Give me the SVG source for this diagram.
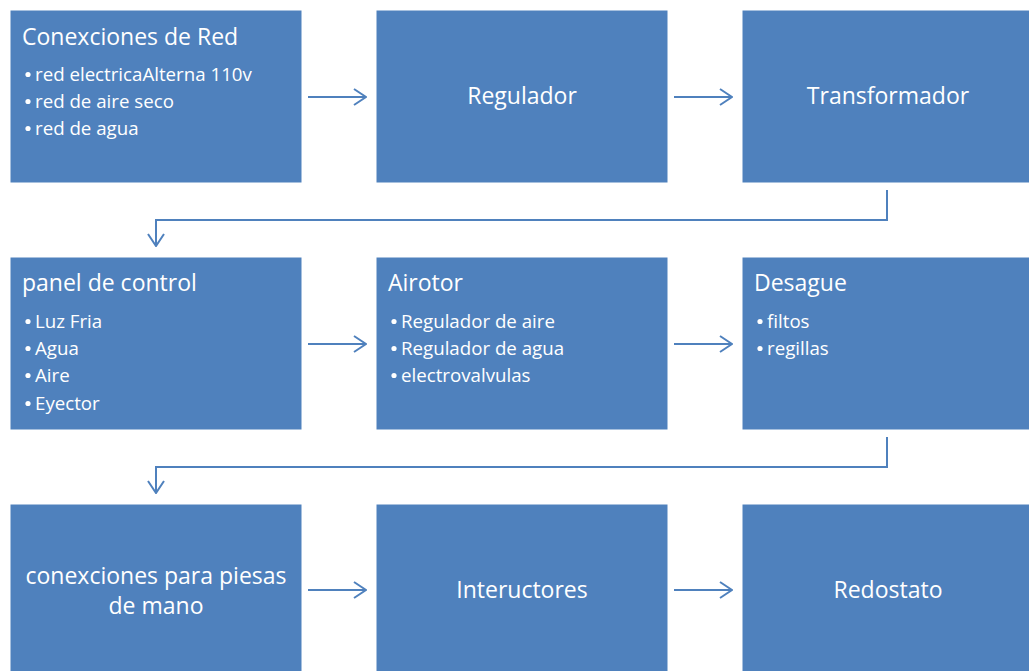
<svg xmlns="http://www.w3.org/2000/svg" width="1029" height="671" viewBox="0 0 1029 671">
<style>
.box{fill:#4f81bd;stroke:#ffffff;stroke-width:1}
.t{font-family:"Open Sans","Liberation Sans",sans-serif;fill:#ffffff;font-size:23px}
.c{text-anchor:middle}
.b{font-family:"Open Sans","Liberation Sans",sans-serif;fill:#ffffff;font-size:18.7px}
.d{fill:#ffffff}
.conn{fill:none;stroke:#4f81bd;stroke-width:2}
</style>
<defs>
<marker id="ah" viewBox="0 0 14 18" refX="13" refY="9" markerWidth="14" markerHeight="18" markerUnits="userSpaceOnUse" orient="auto">
<path d="M1,1 L13,9 L1,17" fill="none" stroke="#4f81bd" stroke-width="2"/>
</marker>
</defs>
<g id="connectors">
<line class="conn" x1="308" y1="97" x2="366" y2="97" marker-end="url(#ah)"/>
<line class="conn" x1="674" y1="97" x2="732" y2="97" marker-end="url(#ah)"/>
<polyline class="conn" points="887,190 887,220 156,220 156,246" marker-end="url(#ah)"/>
<line class="conn" x1="308" y1="344" x2="366" y2="344" marker-end="url(#ah)"/>
<line class="conn" x1="674" y1="344" x2="732" y2="344" marker-end="url(#ah)"/>
<polyline class="conn" points="887,437 887,467 156,467 156,493" marker-end="url(#ah)"/>
<line class="conn" x1="308" y1="590" x2="366" y2="590" marker-end="url(#ah)"/>
<line class="conn" x1="674" y1="590" x2="732" y2="590" marker-end="url(#ah)"/>
</g>
<g id="n1"><rect class="box" x="10" y="10" width="292" height="173"/>
<text class="t" x="22" y="45">Conexciones de Red</text>
<circle class="d" cx="28" cy="74.5" r="2.6"/><text class="b" x="35" y="81">red electricaAlterna 110v</text>
<circle class="d" cx="28" cy="101.5" r="2.6"/><text class="b" x="35" y="108">red de aire seco</text>
<circle class="d" cx="28" cy="128.5" r="2.6"/><text class="b" x="35" y="135">red de agua</text></g>
<g id="n2"><rect class="box" x="376" y="10" width="292" height="173"/>
<text class="t c" x="522" y="104">Regulador</text></g>
<g id="n3"><rect class="box" x="742" y="10" width="292" height="173"/>
<text class="t c" x="888" y="104">Transformador</text></g>
<g id="n4"><rect class="box" x="10" y="257" width="292" height="173"/>
<text class="t" x="22" y="291">panel de control</text>
<circle class="d" cx="28" cy="321.5" r="2.6"/><text class="b" x="35" y="328">Luz Fria</text>
<circle class="d" cx="28" cy="348.5" r="2.6"/><text class="b" x="35" y="355">Agua</text>
<circle class="d" cx="28" cy="375.5" r="2.6"/><text class="b" x="35" y="382">Aire</text>
<circle class="d" cx="28" cy="403.5" r="2.6"/><text class="b" x="35" y="410">Eyector</text></g>
<g id="n5"><rect class="box" x="376" y="257" width="292" height="173"/>
<text class="t" x="388" y="291">Airotor</text>
<circle class="d" cx="394" cy="321.5" r="2.6"/><text class="b" x="401" y="328">Regulador de aire</text>
<circle class="d" cx="394" cy="348.5" r="2.6"/><text class="b" x="401" y="355">Regulador de agua</text>
<circle class="d" cx="394" cy="375.5" r="2.6"/><text class="b" x="401" y="382">electrovalvulas</text></g>
<g id="n6"><rect class="box" x="742" y="257" width="292" height="173"/>
<text class="t" x="754" y="291">Desague</text>
<circle class="d" cx="760" cy="321.5" r="2.6"/><text class="b" x="767" y="328">filtos</text>
<circle class="d" cx="760" cy="348.5" r="2.6"/><text class="b" x="767" y="355">regillas</text></g>
<g id="n7"><rect class="box" x="10" y="504" width="292" height="173"/>
<text class="t c" x="156" y="584">conexciones para piesas</text>
<text class="t c" x="156" y="614">de mano</text></g>
<g id="n8"><rect class="box" x="376" y="504" width="292" height="173"/>
<text class="t c" x="522" y="598">Inteructores</text></g>
<g id="n9"><rect class="box" x="742" y="504" width="292" height="173"/>
<text class="t c" x="888" y="598">Redostato</text></g>
</svg>
